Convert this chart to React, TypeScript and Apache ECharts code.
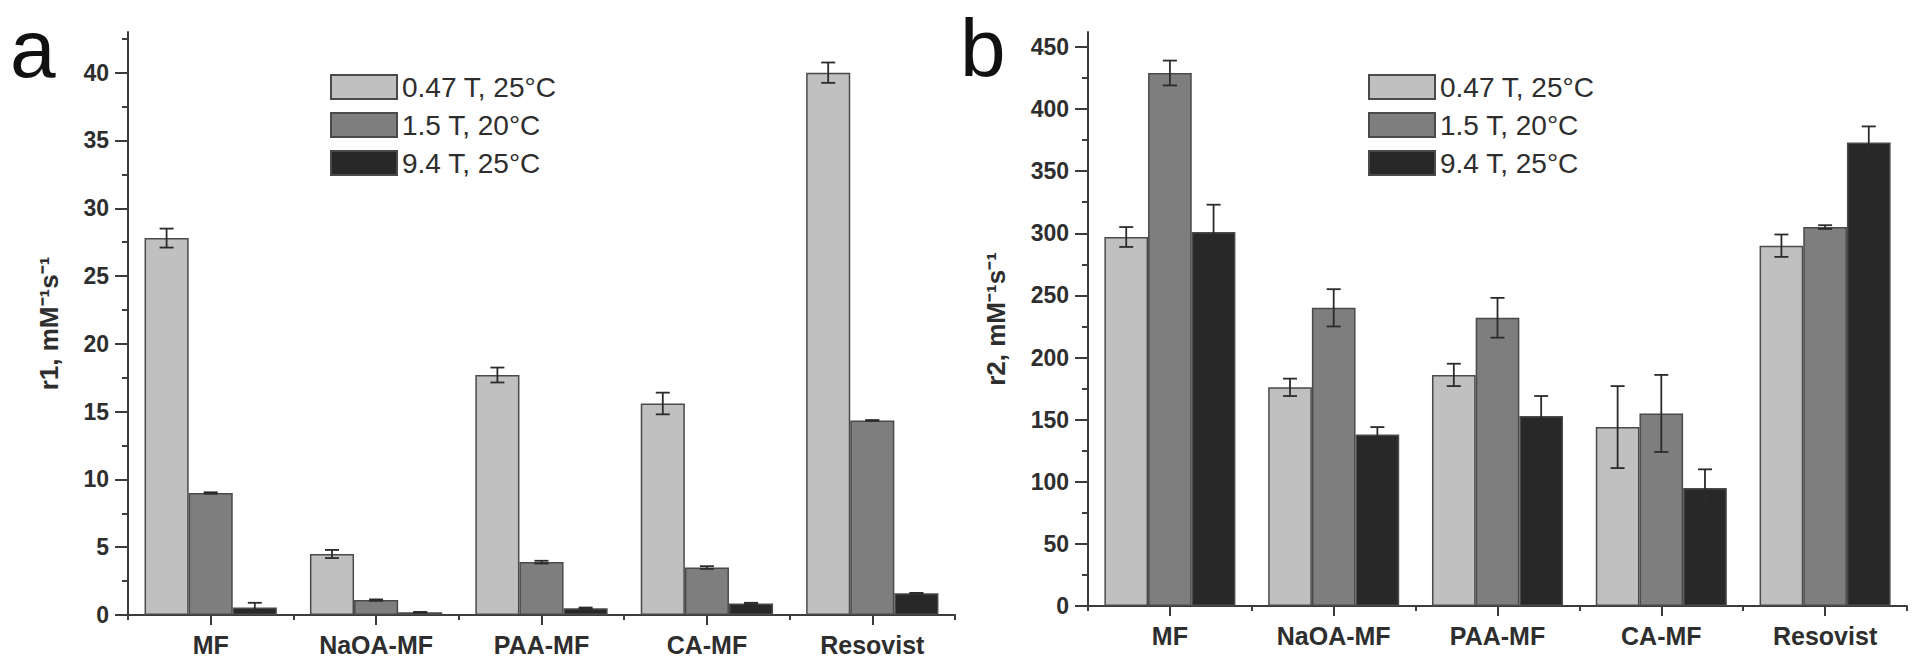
import React, { useEffect, useRef } from 'react';
import * as echarts from 'echarts';

const categories = ['MF', 'NaOA-MF', 'PAA-MF', 'CA-MF', 'Resovist'];
const seriesNames = ['0.47 T, 25°C', '1.5 T, 20°C', '9.4 T, 25°C'];
const barColors = ['#c0c0c0', '#7e7e7e', '#282828'];

// Panel a: r1
const r1Low = [27.8, 4.5, 17.7, 15.6, 40.0];
const r1LowErr = [0.7, 0.3, 0.55, 0.8, 0.75];
const r1Mid = [9.0, 1.1, 3.9, 3.5, 14.35];
const r1MidErr = [0.05, 0.05, 0.1, 0.1, 0.03];
const r1High = [0.55, 0.2, 0.5, 0.85, 1.6];
const r1HighErr = [0.35, 0.03, 0.05, 0.05, 0.03];
const r1MajorTicks = [0, 5, 10, 15, 20, 25, 30, 35, 40];
const r1MinorTicks = [2.5, 7.5, 12.5, 17.5, 22.5, 27.5, 32.5, 37.5, 42.5];

// Panel b: r2
const r2Low = [297, 176, 186, 144, 290];
const r2LowErr = [8, 7, 9, 33, 9];
const r2Mid = [429, 240, 232, 155, 305];
const r2MidErr = [10, 15, 16, 31, 1.5];
const r2High = [301, 138, 153, 95, 373];
const r2HighErr = [22, 6, 16, 15, 13];
const r2MajorTicks = [0, 50, 100, 150, 200, 250, 300, 350, 400, 450];
const r2MinorTicks = [25, 75, 125, 175, 225, 275, 325, 375, 425];

const FONT = '"Liberation Sans", Arial, Helvetica, sans-serif';
const TEXT = '#2e2e2e';
const AXIS = '#3c3c3c';

export default function App() {
  const ref = useRef<HTMLDivElement>(null);

  useEffect(() => {
    if (!ref.current) return;
    const chart = echarts.init(ref.current, null, { renderer: 'svg' });

    const mkXAxes = (gridIndex: number) => [
      {
        type: 'category', gridIndex, data: categories, position: 'bottom',
        axisLine: { show: true, lineStyle: { color: AXIS, width: 2 } },
        axisTick: { show: true, alignWithLabel: true, length: 10, lineStyle: { color: AXIS, width: 2 } },
        axisLabel: { fontFamily: FONT, fontWeight: 'bold', fontSize: 25, color: TEXT, margin: 17 },
      },
      {
        type: 'category', gridIndex, data: categories, position: 'bottom',
        axisLine: { show: false },
        axisTick: { show: true, length: 5, lineStyle: { color: AXIS, width: 2 } },
        axisLabel: { show: false },
      },
    ];

    const mkYAxes = (gridIndex: number, max: number, majors: number[], minors: number[], name: string, nameGap: number) => [
      {
        type: 'value', gridIndex, min: 0, max, position: 'left',
        name, nameLocation: 'middle', nameGap,
        nameTextStyle: { fontFamily: FONT, fontWeight: 'bold', fontSize: 26, color: TEXT },
        axisLine: { show: true, lineStyle: { color: AXIS, width: 2 } },
        axisTick: { show: true, length: 13, customValues: majors, lineStyle: { color: AXIS, width: 2 } },
        axisLabel: { customValues: majors, fontFamily: FONT, fontWeight: 'bold', fontSize: 23, color: TEXT, margin: 19 },
        splitLine: { show: false },
      },
      {
        type: 'value', gridIndex, min: 0, max, position: 'left',
        axisLine: { show: false },
        axisTick: { show: true, length: 6, customValues: minors, lineStyle: { color: AXIS, width: 2 } },
        axisLabel: { show: false },
        splitLine: { show: false },
      },
    ];

    const errRender = (params: any, api: any) => {
      const ci = api.value(0);
      const v = api.value(1);
      const e = api.value(2);
      const si = api.value(3);
      const center = api.coord([ci, v]);
      const band = api.size([1, 0])[0];
      const bw = (band * 0.8) / 3;
      const x = center[0] + (si - 1) * bw;
      const top = api.coord([ci, v + e])[1];
      const bot = api.coord([ci, v - e])[1];
      const cap = 7;
      const style = { stroke: '#2b2b2b', lineWidth: 1.8 };
      return {
        type: 'group',
        children: [
          { type: 'line', shape: { x1: x, y1: top, x2: x, y2: bot }, style },
          { type: 'line', shape: { x1: x - cap, y1: top, x2: x + cap, y2: top }, style },
          { type: 'line', shape: { x1: x - cap, y1: bot, x2: x + cap, y2: bot }, style },
        ],
      };
    };

    const mkSeries = (xIdx: number, yIdx: number, vals: number[][], errs: number[][]) => {
      const bars = vals.map((arr, i) => ({
        type: 'bar', name: seriesNames[i], xAxisIndex: xIdx, yAxisIndex: yIdx,
        data: arr, barGap: '0%', barCategoryGap: '20%',
        itemStyle: { color: barColors[i], borderColor: '#4a4a4a', borderWidth: 1.5 },
      }));
      const errData: number[][] = [];
      vals.forEach((arr, si) => arr.forEach((v, ci) => errData.push([ci, v, errs[si][ci], si])));
      const custom = {
        type: 'custom', xAxisIndex: xIdx, yAxisIndex: yIdx, z: 5,
        renderItem: errRender, data: errData,
        encode: { x: 0, y: 1 },
      };
      return [...bars, custom];
    };

    const legendCommon = {
      orient: 'vertical', itemWidth: 66, itemHeight: 24, itemGap: 10, icon: 'rect',
      padding: 0, selectedMode: false, data: seriesNames,
      textStyle: { fontFamily: FONT, fontSize: 28, color: TEXT, lineHeight: 24 },
    };

    chart.setOption({
      animation: false,
      backgroundColor: '#ffffff',
      grid: [
        { left: 128, top: 32, width: 827, height: 583 },
        { left: 1088, top: 32, width: 819, height: 574 },
      ],
      legend: [
        { ...legendCommon, left: 330, top: 73 },
        { ...legendCommon, left: 1368, top: 73 },
      ],
      xAxis: [...mkXAxes(0), ...mkXAxes(1)],
      yAxis: [
        ...mkYAxes(0, 43, r1MajorTicks, r1MinorTicks, 'r1, mM⁻¹s⁻¹', 66),
        ...mkYAxes(1, 462, r2MajorTicks, r2MinorTicks, 'r2, mM⁻¹s⁻¹', 79),
      ],
      series: [
        ...mkSeries(0, 0, [r1Low, r1Mid, r1High], [r1LowErr, r1MidErr, r1HighErr]),
        ...mkSeries(2, 2, [r2Low, r2Mid, r2High], [r2LowErr, r2MidErr, r2HighErr]),
      ],
      graphic: [
        { type: 'text', left: 10, top: 7, style: { text: 'a', font: `82px ${FONT}`, fill: '#111' } },
        { type: 'text', left: 960, top: 6, style: { text: 'b', font: `82px ${FONT}`, fill: '#111' } },
      ],
    });

    return () => chart.dispose();
  }, []);

  return (
    <div
      ref={ref}
      style={{ position: 'fixed', left: 0, top: 0, width: 1920, height: 668, background: '#fff' }}
    />
  );
}
